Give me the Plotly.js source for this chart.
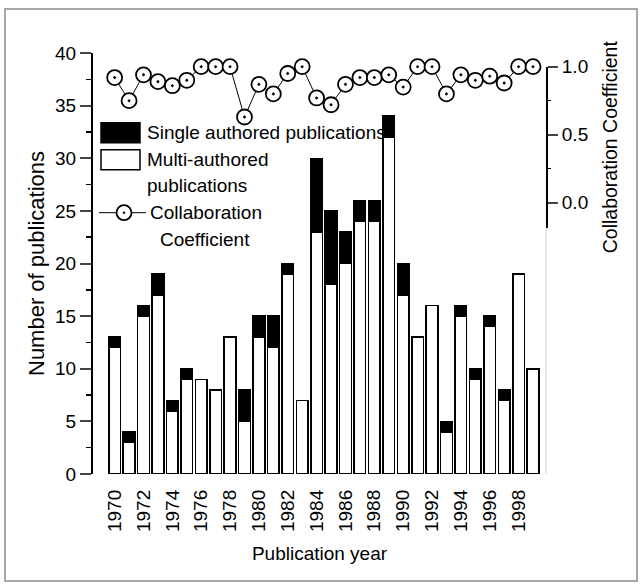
<!DOCTYPE html>
<html><head><meta charset="utf-8">
<script src="https://cdn.plot.ly/plotly-3.0.1.min.js"></script>
<style>
html,body{margin:0;padding:0;background:#fff;}
#frame{position:absolute;left:4px;top:8px;width:630px;height:570px;border:2px solid #a8a8a8;}
#chart{position:absolute;left:0;top:0;width:642px;height:586px;}
</style></head><body>
<div id="frame"></div>
<div id="chart"></div>
<script>
const years = [1970,1971,1972,1973,1974,1975,1976,1977,1978,1979,1980,1981,1982,1983,1984,1985,1986,1987,1988,1989,1990,1991,1992,1993,1994,1995,1996,1997,1998,1999];
const multiAuthored = [12,3,15,17,6,9,9,8,13,5,13,12,19,7,23,18,20,24,24,32,17,13,16,4,15,9,14,7,19,10];
const singleAuthored = [1,1,1,2,1,1,0,0,0,3,2,3,1,0,7,7,3,2,2,2,3,0,0,1,1,1,1,1,0,0];
const collabCoef = [0.92,0.75,0.94,0.89,0.86,0.90,1.0,1.0,1.0,0.63,0.87,0.80,0.95,1.0,0.77,0.72,0.87,0.92,0.92,0.94,0.85,1.0,1.0,0.80,0.94,0.90,0.93,0.88,1.0,1.0];
const rightTickVals = [0, 0.5, 1.0];
const rightTickText = ['0.0', '0.5', '1.0'];

const FONT = 'Liberation Sans, Arial, Helvetica, sans-serif';

const traces = [
  {type:'bar', x:years, y:multiAuthored, name:'Multi-authored publications',
   marker:{color:'#ffffff', line:{color:'#000', width:1.5}}},
  {type:'bar', x:years, y:singleAuthored, name:'Single authored publications',
   marker:{color:'#000000', line:{color:'#000', width:1.5}}},
  {type:'scatter', mode:'lines+markers', x:years, y:collabCoef, yaxis:'y2',
   name:'Collaboration Coefficient', cliponaxis:false,
   line:{color:'#000', width:1},
   marker:{symbol:'circle-dot', size:15, color:'#fff', line:{color:'#000', width:1.8}}}
];

// plot area: x 93..546, y 53..474 (pixels)
function px(x){return (x-93)/453;}
function py(y){return (474.3-y)/421;}

const shapes = [
  {type:'line', xref:'paper', yref:'paper', x0:1, x1:1, y0:0, y1:0.585, line:{color:'#d4d4d4', width:1}},
  {type:'rect', xref:'paper', yref:'paper', x0:px(101), x1:px(140), y0:py(143), y1:py(123), fillcolor:'#000', line:{color:'#000', width:1.5}},
  {type:'rect', xref:'paper', yref:'paper', x0:px(101), x1:px(140), y0:py(170), y1:py(150), fillcolor:'#fff', line:{color:'#000', width:1.5}},
  {type:'line', xref:'paper', yref:'paper', x0:px(99), x1:px(146), y0:py(213), y1:py(213), line:{color:'#000', width:1}},
  {type:'circle', xref:'paper', yref:'paper', x0:px(116.5), x1:px(131.5), y0:py(220.5), y1:py(205.5), fillcolor:'#fff', line:{color:'#000', width:1.8}},
  {type:'circle', xref:'paper', yref:'paper', x0:px(123), x1:px(125), y0:py(214), y1:py(212), fillcolor:'#000', line:{color:'#000', width:0.5}}
];

const ann = (t, x, y) => ({text:t, xref:'paper', yref:'paper', x:px(x), y:py(y), xanchor:'left', yanchor:'middle', showarrow:false, font:{size:19, family:FONT, color:'#000'}});
const annotations = [
  ann('Single authored publications', 145, 133),
  ann('Multi-authored', 145, 160),
  ann('publications', 145, 186),
  ann('Collaboration', 148, 213),
  ann('Coefficient', 158, 240)
];

const layout = {
  width:642, height:586,
  margin:{l:93, r:96, t:53, b:112, pad:0},
  paper_bgcolor:'rgba(0,0,0,0)', plot_bgcolor:'rgba(0,0,0,0)',
  font:{family:FONT, size:19, color:'#000'},
  barmode:'stack', bargap:0.19,
  showlegend:false,
  xaxis:{range:[1968.5,1999.9], tickmode:'linear', tick0:1970, dtick:2, tickangle:-90,
         ticks:'', showline:false, showgrid:false, zeroline:false,
         tickfont:{size:19}, ticklabelstandoff:11,
         title:{text:'Publication year', font:{size:19}, standoff:15}},
  yaxis:{range:[0,40], tickmode:'linear', tick0:0, dtick:5, ticks:'outside', ticklen:11, tickwidth:2,
         showline:true, linewidth:2, linecolor:'#000', showgrid:false, zeroline:false,
         minor:{dtick:2.5, ticks:'outside', ticklen:5, tickwidth:1.5, tickcolor:'#000'},
         tickfont:{size:19},
         title:{text:'Number of publications', font:{size:22}, standoff:4}},
  yaxis2:{domain:[0.585,0.9675], anchor:'x', side:'right', range:[-0.184,1.0],
          tickmode:'array', tickvals:rightTickVals, ticktext:rightTickText,
          ticks:'outside', ticklen:10, tickwidth:2, showline:true, linewidth:2, linecolor:'#000',
          minor:{tickvals:[0.25,0.75], ticks:'outside', ticklen:3, tickwidth:1.5, tickcolor:'#000'},
          showgrid:false, zeroline:false, tickfont:{size:19},
          title:{text:'Collaboration Coefficient', font:{size:19.5}, standoff:16}},
  shapes:shapes,
  annotations:annotations
};

Plotly.newPlot('chart', traces, layout, {displayModeBar:false, staticPlot:true});
</script>
</body></html>
